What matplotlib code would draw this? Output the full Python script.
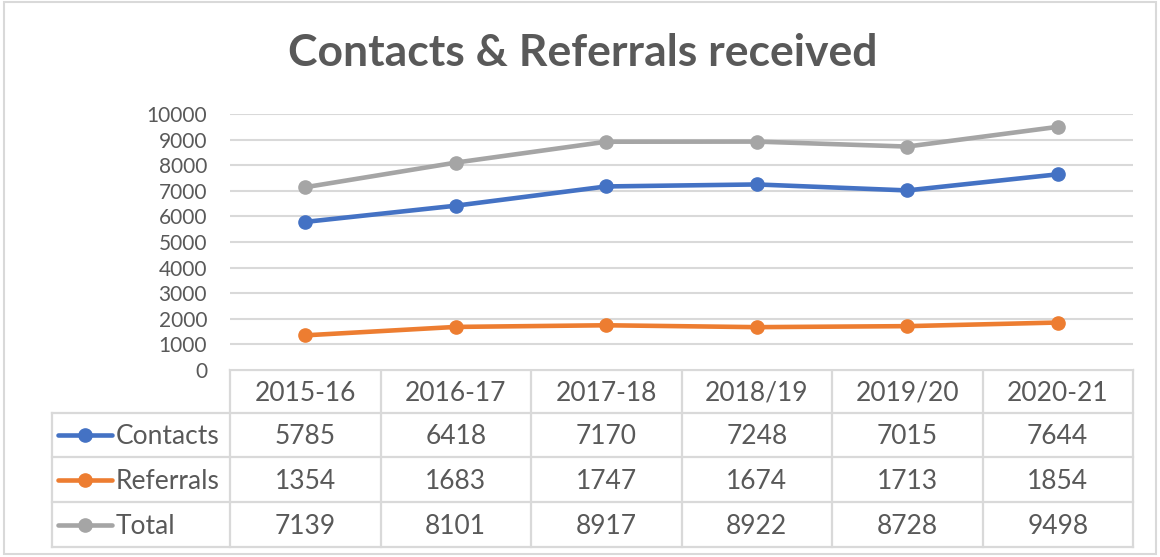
import matplotlib
matplotlib.use("Agg")
import matplotlib.pyplot as plt
import numpy as np

# data
years = ["2015-16", "2016-17", "2017-18", "2018/19", "2019/20", "2020-21"]
contacts = [5785, 6418, 7170, 7248, 7015, 7644]
referrals = [1354, 1683, 1747, 1674, 1713, 1854]
total = [7139, 8101, 8917, 8922, 8728, 9498]
series_names = ["Contacts", "Referrals", "Total"]
series_colors = ["#4472C4", "#ED7D31", "#A5A5A5"]

TXT = "#595959"
GRID = "#D9D9D9"
FONT = "Lato"
W, H = 1160, 557
plt.rcParams["font.family"] = [FONT, "DejaVu Sans"]

fig = plt.figure(figsize=(W / 100, H / 100), dpi=100)
fig.patch.set_facecolor("white")

# layout in pixels
px_left, px_right = 230, 1133
px_top, px_bot = 114, 370
tbl_left = 52
row_edges = [370, 413, 457, 502, 547]
txt_dy = 2  # nudge table text down a touch

ax = fig.add_axes([px_left / W, 1 - px_bot / H, (px_right - px_left) / W,
                   (px_bot - px_top) / H])
x = np.arange(len(years))
for vals, name, col in zip([contacts, referrals, total], series_names, series_colors):
    ax.plot(x, vals, color=col, lw=3.3, marker="o", ms=9.5, label=name,
            solid_capstyle="round", zorder=3)
ax.set_xlim(-0.5, len(years) - 0.5)
ax.set_ylim(0, 10000)
ax.set_yticks(range(0, 10001, 1000))
ax.yaxis.grid(True, color=GRID, lw=1.5)
ax.set_axisbelow(True)
ax.set_xticks([])
ax.tick_params(axis="y", length=0, pad=16.5, labelsize=15, labelcolor=TXT)
for s in ax.spines.values():
    s.set_visible(False)

# overlay in pixel coordinates for the data table and chart frame
ov = fig.add_axes([0, 0, 1, 1], zorder=-1)
ov.set_xlim(0, W)
ov.set_ylim(H, 0)
ov.axis("off")

# chart frame
ov.add_patch(plt.Rectangle((4, 2), W - 8, H - 5, fill=False, ec=GRID, lw=1.5))

cell_w = (px_right - px_left) / len(years)
lw_t = 1.6
# horizontal lines
ov.plot([px_left, px_right], [row_edges[0]] * 2, color=GRID, lw=lw_t)
for y in row_edges[1:]:
    ov.plot([tbl_left, px_right], [y, y], color=GRID, lw=lw_t)
# vertical lines
for k in range(len(years) + 1):
    xv = px_left + k * cell_w
    ov.plot([xv, xv], [row_edges[0], row_edges[-1]], color=GRID, lw=lw_t)
ov.plot([tbl_left, tbl_left], [row_edges[1], row_edges[-1]], color=GRID, lw=lw_t)

fs = 19
for i, yr in enumerate(years):
    cx = px_left + (i + 0.5) * cell_w
    ov.text(cx, (row_edges[0] + row_edges[1]) / 2 + txt_dy, yr, ha="center",
            va="center", fontsize=fs, color=TXT)

for r, (vals, name, col) in enumerate(zip([contacts, referrals, total],
                                          series_names, series_colors)):
    cy = (row_edges[r + 1] + row_edges[r + 2]) / 2
    ov.plot([58, 112], [cy, cy], color=col, lw=3.3, solid_capstyle="round")
    ov.plot([85], [cy], marker="o", ms=9.5, color=col)
    ov.text(116, cy + txt_dy, name, ha="left", va="center", fontsize=fs, color=TXT)
    for i, v in enumerate(vals):
        cx = px_left + (i + 0.5) * cell_w
        ov.text(cx, cy + txt_dy, str(v), ha="center", va="center", fontsize=fs,
                color=TXT)

fig.text(583 / W, 1 - 53 / H, "Contacts & Referrals received", ha="center",
         va="center", fontsize=32, fontweight="bold", color=TXT)

fig.savefig("out.png", dpi=100, facecolor="white")
